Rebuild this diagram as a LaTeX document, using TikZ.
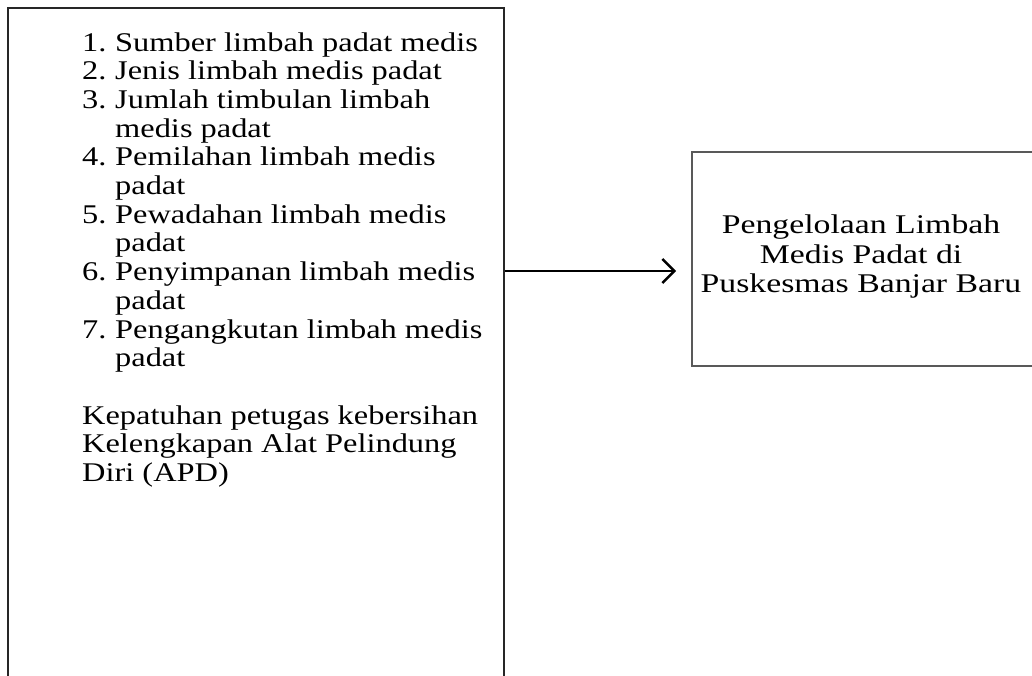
\documentclass[tikz,border=0pt]{standalone}
\usepackage{fontspec}
\setmainfont{Liberation Serif}
\newfontfamily\lfont{Liberation Serif}[FakeStretch=1.2]
\newfontfamily\rfont{Liberation Serif}[FakeStretch=1.25]
\usetikzlibrary{arrows.meta}
\begin{document}
\begin{tikzpicture}[x=1pt,y=-1pt,
  frameL/.style={draw=black!85,line width=1.3pt,minimum width=496pt,minimum height=720pt,inner sep=0pt},
  frameR/.style={draw=black!65,line width=1.6pt,minimum width=360pt,minimum height=214pt,inner sep=0pt},
  txt/.style={anchor=base west,inner sep=0pt,font=\lfont\fontsize{27}{29}\selectfont},
  ctxt/.style={align=center,inner sep=0pt,font=\rfont\fontsize{27}{29.5}\selectfont},
  link/.style={line width=2.6pt,-{Straight Barb[length=12pt,width=24pt,line width=2.6pt]}}]
\useasboundingbox (0,0) rectangle (1032,675);
\clip (0,0) rectangle (1032,675);
\node[frameL] (lbox) at (256,368) {};
\node[frameR] (rbox) at (872,259) {};
% list
\node[txt] (n1) at (82,51) {1.};
\node[txt] (t1) at (115,51) {Sumber limbah padat medis};
\node[txt] (n2) at (82,79.7) {2.};
\node[txt] (t2) at (115,79.7) {Jenis limbah medis padat};
\node[txt] (n3) at (82,108.4) {3.};
\node[txt] (t3) at (115,108.4) {Jumlah timbulan limbah};
\node[txt] (t3b) at (115,137.1) {medis padat};
\node[txt] (n4) at (82,165.8) {4.};
\node[txt] (t4) at (115,165.8) {Pemilahan limbah medis};
\node[txt] (t4b) at (115,194.5) {padat};
\node[txt] (n5) at (82,223.2) {5.};
\node[txt] (t5) at (115,223.2) {Pewadahan limbah medis};
\node[txt] (t5b) at (115,251.9) {padat};
\node[txt] (n6) at (82,280.6) {6.};
\node[txt] (t6) at (115,280.6) {Penyimpanan limbah medis};
\node[txt] (t6b) at (115,309.3) {padat};
\node[txt] (n7) at (82,338) {7.};
\node[txt] (t7) at (115,338) {Pengangkutan limbah medis};
\node[txt] (t7b) at (115,366.7) {padat};
\node[txt] (k1) at (82,424.1) {Kepatuhan petugas kebersihan};
\node[txt] (k2) at (82,452.8) {Kelengkapan Alat Pelindung};
\node[txt] (k3) at (82,481.5) {Diri (APD)};
% right text
\node[ctxt] (rt) at (861,257) {Pengelolaan Limbah\\Medis Padat di\\Puskesmas Banjar Baru};
% arrow
\coordinate (as) at (lbox.east |- 0,271);
\coordinate (ae) at (rbox.west |- 0,271);
\draw[link,shorten >=15pt] (as) -- (ae);
\end{tikzpicture}
\end{document}
